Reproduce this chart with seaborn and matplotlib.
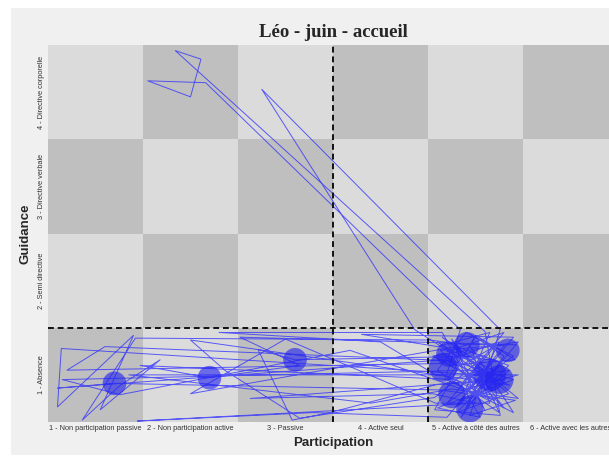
import numpy as np
import pandas as pd
import matplotlib
matplotlib.use("Agg")
import matplotlib.pyplot as plt
from matplotlib.colors import ListedColormap
from matplotlib.patches import Rectangle
import seaborn as sns

# Axis categories
participation = ["1 - Non participation passive", "2 - Non participation active", "3 - Passive",
                 "4 - Active seul", "5 - Active à côté des autres", "6 - Active avec les autres"]
guidance = ["1 - Absence", "2 - Semi directive", "3 - Directive verbale", "4 - Directive corporelle"]

# Trajectory (participation, guidance) with jitter inside the cells
traj_x = [4.94, 4.63, 5.31, 4.84, 5.20, 4.73, 5.42, 5.00, 4.57, 5.26,
          5.10, 1.84, 2.11, 2.00, 1.55, 2.16, 4.84, 4.68, 5.36, 5.05,
          5.26, 2.75, 4.36, 4.78, 5.15, 4.94, 5.42, 4.63, 1.20, 0.60,
          4.68, 5.05, 0.64, 0.60, 1.40, 1.05, 1.68, 1.26, 0.86, 1.42,
          4.52, 4.89, 5.42, 2.52, 3.15, 2.20, 1.47, 4.78, 5.20, 3.68,
          1.26, 0.65, 5.00, 5.36, 2.00, 2.36, 3.15, 4.57, 5.10, 3.10,
          2.71, 3.07, 3.47, 4.60, 5.30, 2.63, 4.55, 5.00, 1.44, 3.29,
          4.70, 5.40, 3.80, 4.60, 5.15, 4.90, 5.45, 4.58, 4.00, 2.30,
          4.65, 5.10, 4.75, 5.30, 4.85, 5.20, 4.70, 5.40, 4.90, 4.60,
          5.25, 5.00, 4.65, 5.35, 4.80, 5.10, 4.55, 5.45, 4.95, 5.20,
          4.70, 5.30, 4.85, 5.05, 4.60, 5.40, 4.75, 1.10, 0.70, 4.62,
          5.25, 4.90, 5.35, 4.80, 2.00, 3.00, 4.58, 5.15, 4.95, 5.40,
          4.70, 5.00, 5.30, 4.85, 5.10, 4.60, 5.20, 4.90, 5.45, 4.75,
          3.90, 1.35, 4.65, 5.05, 5.25]
traj_y = [0.95, 1.26, 1.32, 0.73, 0.84, 1.10, 1.16, 1.42, 0.63, 0.57,
          1.46, 4.44, 4.35, 3.95, 4.12, 4.10, 1.48, 0.95, 1.05, 0.79,
          1.48, 4.03, 1.48, 1.21, 1.16, 0.57, 0.73, 0.84, 0.91, 0.86,
          1.16, 1.00, 1.28, 0.66, 1.42, 0.63, 1.16, 0.89, 0.52, 1.39,
          1.37, 1.32, 1.32, 1.40, 1.10, 0.97, 1.10, 0.95, 0.73, 1.26,
          0.79, 0.95, 1.05, 0.89, 1.37, 1.05, 0.54, 0.76, 1.20, 1.16,
          1.27, 0.52, 0.60, 0.90, 0.95, 0.75, 0.80, 0.70, 0.51, 0.60,
          0.55, 1.40, 1.43, 1.30, 1.45, 0.85, 1.00, 1.00, 1.35, 1.45,
          1.45, 0.62, 1.38, 0.65, 1.10, 1.30, 0.70, 1.20, 1.45, 1.05,
          0.60, 1.15, 1.40, 0.80, 0.60, 0.90, 1.20, 1.35, 0.75, 1.05,
          1.25, 1.45, 0.90, 0.55, 0.65, 0.95, 1.15, 1.30, 1.05, 1.12,
          1.35, 0.65, 1.10, 1.30, 0.80, 1.38, 0.70, 0.70, 1.30, 0.60,
          0.95, 1.40, 1.20, 0.55, 1.05, 1.35, 0.90, 1.20, 0.75, 0.85,
          0.70, 1.00, 1.00, 0.85, 1.10]

# Stays (circles): position and duration
sejour_x = [1.20, 2.20, 3.10, 4.91, 5.34, 4.66, 5.15, 4.75, 4.94, 5.25, 4.72]
sejour_y = [0.91, 0.97, 1.16, 1.32, 1.26, 1.08, 1.00, 0.79, 0.64, 0.95, 1.22]
sejour_duree = [12, 12, 12, 13, 12, 15, 18, 14, 14, 15, 13]

# Checkerboard of the background (rows from guidance 1 to 4)
damier = [[1, 0, 1, 0, 1, 0],
          [0, 1, 0, 1, 0, 1],
          [1, 0, 1, 0, 1, 0],
          [0, 1, 0, 1, 0, 1]]

traj = pd.DataFrame({"x": traj_x, "y": traj_y})
sejours = pd.DataFrame({"x": sejour_x, "y": sejour_y, "duree": sejour_duree})

sns.set_style("white")
plt.rcParams["font.family"] = ["Liberation Sans", "DejaVu Sans"]

fig = plt.figure(figsize=(6.09, 4.57), dpi=100, facecolor="white")
fig.patches.append(Rectangle((11 / 609, 2 / 457), 598 / 609, 447 / 457, transform=fig.transFigure,
                             facecolor="#f0f0f0", edgecolor="none", zorder=-1))
ax = fig.add_axes([48 / 609, 35 / 457, 570 / 609, 377 / 457])

ax.pcolormesh(np.arange(0.5, 7.0, 1.0), np.arange(0.5, 5.0, 1.0), np.array(damier),
              cmap=ListedColormap(["#dbdbdb", "#bfbfbf"]), shading="flat", zorder=0)

sns.lineplot(data=traj, x="x", y="y", sort=False, estimator=None, color="#2b2bff",
             linewidth=0.7, alpha=0.75, ax=ax, zorder=2)
sns.scatterplot(data=sejours, x="x", y="y", size="duree", sizes=(290, 560), size_norm=(12, 18),
                color="#2020f0", alpha=0.6, edgecolor="none", legend=False, ax=ax, zorder=3)

# Dashed separations
ax.axhline(1.5, color="#111111", linestyle=(0, (3, 2)), linewidth=1.4, zorder=4)
ax.axvline(3.5, color="#111111", linestyle=(0, (3, 2)), linewidth=1.4, zorder=4)
ax.vlines(4.5, 0.5, 1.5, color="#111111", linestyle=(0, (3, 2)), linewidth=1.4, zorder=4)

ax.set_xlim(0.5, 6.5)
ax.set_ylim(0.5, 4.5)
ax.set_xticks(range(1, 7))
ax.set_xticklabels(participation, fontsize=5.3, color="#333333")
ax.set_yticks(range(1, 5))
ax.set_yticklabels(guidance, fontsize=5.3, color="#333333", rotation=90, va="center")
ax.tick_params(length=0, pad=2.5)
for s in ax.spines.values():
    s.set_visible(False)

ax.set_xlabel("Participation", fontsize=9.5, fontweight="bold", labelpad=3)
ax.set_ylabel("Guidance", fontsize=9.5, fontweight="bold", labelpad=4)
ax.set_title("Léo - juin - accueil", fontsize=13.5, fontweight="bold",
             family=["Liberation Serif", "DejaVu Serif"], pad=6)

fig.savefig("out.png", dpi=100, facecolor=fig.get_facecolor())
